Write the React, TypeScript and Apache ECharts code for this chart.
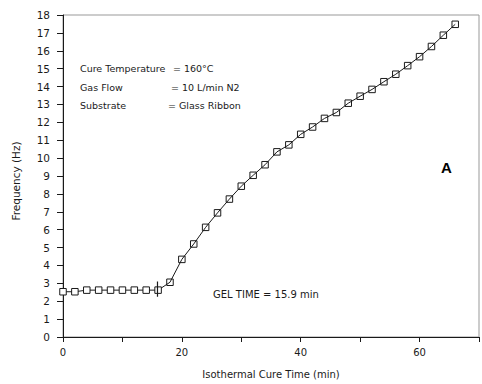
import React, { useEffect, useRef } from "react";
import * as echarts from "echarts";

const cureTime = [0, 2, 4, 6, 8, 10, 12, 14, 16, 18, 20, 22, 24, 26, 28, 30, 32, 34, 36, 38, 40, 42, 44, 46, 48, 50, 52, 54, 56, 58, 60, 62, 64, 66];
const frequency = [2.53, 2.53, 2.62, 2.62, 2.62, 2.62, 2.62, 2.62, 2.62, 3.06, 4.34, 5.2, 6.13, 6.94, 7.71, 8.43, 9.04, 9.63, 10.35, 10.74, 11.33, 11.74, 12.22, 12.55, 13.07, 13.46, 13.84, 14.27, 14.69, 15.17, 15.67, 16.24, 16.87, 17.48];
const gelTime = 15.9;
const gelMarkerY = [2.25, 3.1];
const xLabelValues = [0, 20, 40, 60];
const conditionLabels = ["Cure Temperature", "Gas Flow", "Substrate"];
const conditionValues = ["= 160°C", "= 10 L/min N2", "= Glass Ribbon"];

const FONT = "DejaVu Sans";
const INK = "#1a1a1a";

export default function App() {
  const ref = useRef<HTMLDivElement>(null);
  useEffect(() => {
    if (!ref.current) return;
    const chart = echarts.init(ref.current, null, { renderer: "svg" });
    const data = cureTime.map((t, i) => ({
      value: [t, frequency[i]],
      itemStyle: { color: i < 9 ? "#fff" : "none", borderColor: INK, borderWidth: 1 },
    }));
    const valueX = [173, 171, 168];
    const rowsY = [69, 88, 106];
    const graphics: any[] = [];
    conditionLabels.forEach((l, i) => {
      graphics.push({
        type: "text", left: 80, top: rowsY[i] - 6,
        style: { text: l, fill: INK, font: `9.5px '${FONT}'` },
      });
      graphics.push({
        type: "text", left: valueX[i], top: rowsY[i] - 6,
        style: { text: conditionValues[i], fill: INK, font: `9.5px '${FONT}'` },
      });
    });
    graphics.push({
      type: "text", left: 213, top: 289,
      style: { text: `GEL TIME = ${gelTime} min`, fill: INK, font: `10px '${FONT}'` },
    });
    graphics.push({
      type: "text", left: 441, top: 160,
      style: { text: "A", fill: "#000", font: `bold 15px 'Liberation Sans'` },
    });
    chart.setOption({
      animation: false,
      backgroundColor: "#fff",
      textStyle: { fontFamily: FONT },
      grid: { left: 63, right: 1, top: 15, bottom: 44, show: true, borderColor: "#999", borderWidth: 1 },
      xAxis: {
        type: "value", min: 0, max: 70, interval: 10,
        name: "Isothermal Cure Time (min)", nameLocation: "middle", nameGap: 32,
        nameTextStyle: { fontSize: 10, color: INK, fontFamily: FONT },
        axisLine: { show: true, onZero: false, lineStyle: { color: INK, width: 1 } },
        axisTick: { show: true, inside: false, length: 5, lineStyle: { color: INK } },
        axisLabel: {
          fontSize: 10, color: INK, margin: 10, fontFamily: FONT,
          formatter: (v: number) => (xLabelValues.includes(v) ? String(v) : ""),
        },
        splitLine: { show: false },
      },
      yAxis: {
        type: "value", min: 0, max: 18, interval: 1,
        name: "Frequency (Hz)", nameLocation: "middle", nameGap: 42,
        nameTextStyle: { fontSize: 10.5, color: INK, fontFamily: FONT, padding: [0, 10, 0, 0] },
        axisLine: { show: true, onZero: false, lineStyle: { color: INK, width: 1 } },
        axisTick: { show: true, inside: false, length: 6, lineStyle: { color: INK } },
        axisLabel: { fontSize: 10.5, color: INK, margin: 13, fontFamily: FONT },
        splitLine: { show: false },
      },
      series: [
        {
          type: "line",
          data,
          symbol: "rect",
          symbolSize: 6.5,
          lineStyle: { color: INK, width: 1 },
          z: 3,
        },
        {
          type: "line",
          data: gelMarkerY.map((y) => [gelTime, y]),
          symbol: "none",
          lineStyle: { color: INK, width: 1.2 },
          z: 4,
        },
      ],
      graphic: graphics,
    });
    return () => chart.dispose();
  }, []);
  return <div ref={ref} style={{ width: 482, height: 384, position: "absolute", left: 0, top: 0 }} />;
}
